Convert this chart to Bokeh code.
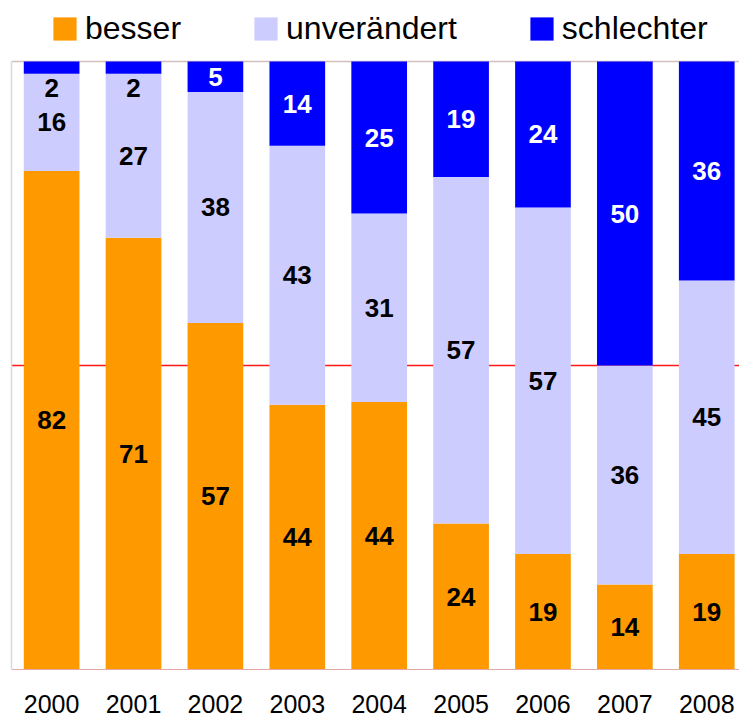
from bokeh.plotting import figure
from bokeh.models import ColumnDataSource, Legend, LegendItem, FixedTicker
from bokeh.core.properties import value
from bokeh.embed import file_html
from bokeh.resources import INLINE

years = ["2000", "2001", "2002", "2003", "2004", "2005", "2006", "2007", "2008"]
besser = [82, 71, 57, 44, 44, 24, 19, 14, 19]
unveraendert = [16, 27, 38, 43, 31, 57, 57, 36, 45]
schlechter = [2, 2, 5, 14, 25, 19, 24, 50, 36]

series = ["besser", "unverändert", "schlechter"]
colors = ["#FF9900", "#CCCCFF", "#0000FF"]
label_colors = ["black", "black", "white"]
midline = [50]
topline = [100]

xs = list(range(len(years)))
raw = [besser, unveraendert, schlechter]
totals = [sum(r[i] for r in raw) for i in xs]
# bars show each year's shares scaled to 100 %
shares = {s: [r[i] * 100 / totals[i] for i in xs] for s, r in zip(series, raw)}
src = ColumnDataSource(dict(x=xs, **shares))

FONT = "Liberation Sans"

# frame: 669 px tall, 608 px for 0..100 -> room above 100 for the legend
p = figure(width=739, height=716, output_backend="svg", toolbar_location=None,
           x_range=(-0.49, 8.40), y_range=(0, 100 * 669 / 608), min_border_left=11, min_border_right=0,
           min_border_top=0, min_border_bottom=47)

p.hspan(y=midline, line_color="#FF1a1a", line_width=1.5)
p.hspan(y=topline, line_color="#d2c0c0", line_width=1.5)

rs = p.vbar_stack(series, x="x", width=0.68, color=colors, line_color=None, source=src)

# labels
lx, ly, lt, lc = [], [], [], []
for i in xs:
    bottom = 0
    for k, s in enumerate(series):
        v = raw[k][i]
        h = shares[s][i]
        center = bottom + h / 2
        col = label_colors[k]
        if v < 4:
            center = bottom - 2.4
            col = "black"
        lx.append(i)
        ly.append(center)
        lt.append(str(v))
        lc.append(col)
        bottom += h
p.text(x=lx, y=ly, text=lt, text_color=lc, text_align="center", text_baseline="middle",
       text_font=value(FONT), text_font_style="bold", text_font_size="26px")

p.grid.visible = False
p.outline_line_color = None
p.background_fill_color = "white"
p.border_fill_color = "white"

yax = p.yaxis[0]
yax.bounds = (0, 100)
yax.ticker = FixedTicker(ticks=[])
yax.major_tick_line_color = None
yax.minor_tick_line_color = None
yax.major_label_standoff = 0
yax.axis_line_color = "#d9d9d9"
yax.axis_line_width = 1.5

ax = p.xaxis[0]
ax.ticker = FixedTicker(ticks=xs)
ax.major_label_overrides = {i: y for i, y in enumerate(years)}
ax.major_tick_line_color = None
ax.minor_tick_line_color = None
ax.axis_line_color = "#e4a8a8"
ax.major_label_standoff = 19
ax.major_label_text_font = FONT
ax.major_label_text_font_size = "25px"
ax.major_label_text_color = "black"

legend = Legend(items=[LegendItem(label=s, renderers=[r]) for s, r in zip(series, rs)],
                orientation="horizontal", location=(39, 622), glyph_width=29, glyph_height=29,
                label_standoff=6, spacing=70, padding=0, margin=0,
                label_text_font=FONT, label_text_font_size="32px", label_text_color="black",
                border_line_color=None, background_fill_alpha=0)
p.add_layout(legend, "center")

open("out.html", "w").write(file_html(p, INLINE))
